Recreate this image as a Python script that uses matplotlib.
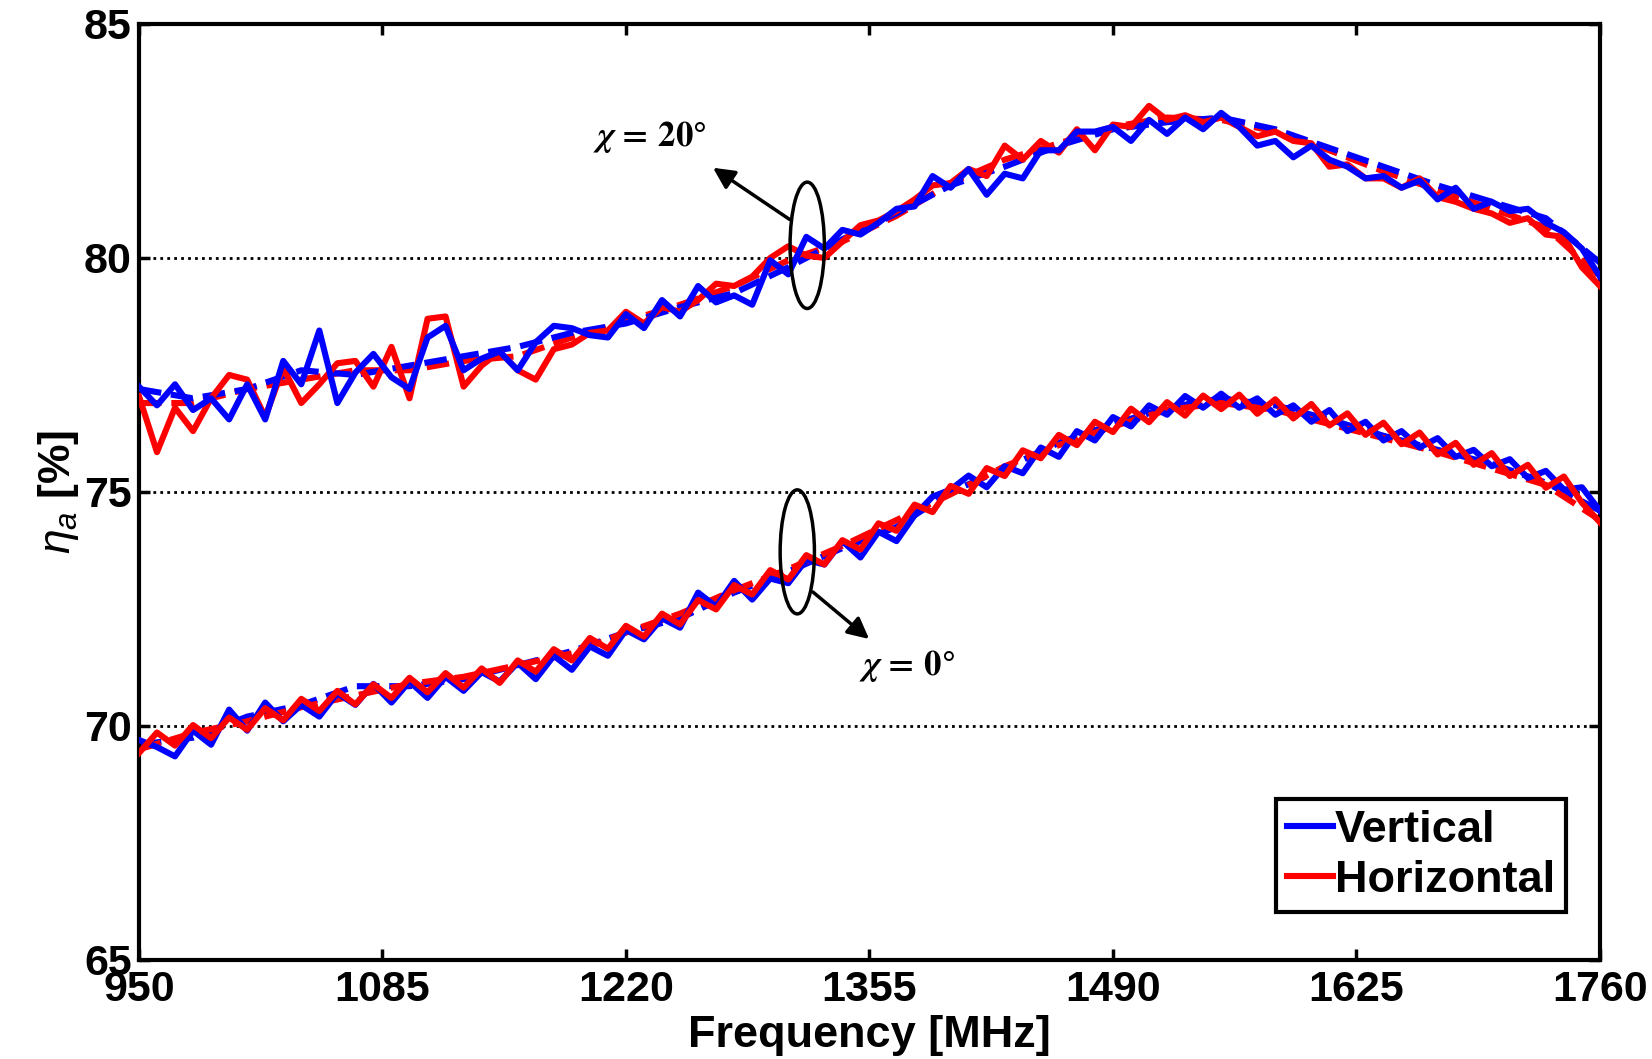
import numpy as np
import matplotlib
matplotlib.use("Agg")
import matplotlib.pyplot as plt
from matplotlib.patches import Ellipse

plt.rcParams['font.family'] = ['Liberation Sans', 'DejaVu Sans']
plt.rcParams['font.weight'] = 'bold'
plt.rcParams['mathtext.fontset'] = 'custom'
plt.rcParams['mathtext.rm'] = 'Liberation Sans:weight=normal'
plt.rcParams['mathtext.it'] = 'Liberation Sans:style=italic:weight=normal'

# frequency grid of the measured curves [MHz]
freq = np.arange(950, 1761, 10)
# coarser grid of the dashed (simulated) curves
freq_d = np.arange(950, 1761, 30)

# chi = 0 deg, measured
low_h = [69.42, 69.86, 69.58, 70.02, 69.74, 70.18, 69.92, 70.38, 70.12, 70.58,
         70.32, 70.75, 70.46, 70.89, 70.60, 71.03, 70.72, 71.13, 70.82, 71.23,
         70.92, 71.40, 71.16, 71.64, 71.40, 71.88, 71.65, 72.14, 71.91, 72.40,
         72.17, 72.69, 72.49, 73.01, 72.81, 73.33, 73.13, 73.65, 73.45, 73.97,
         73.77, 74.33, 74.17, 74.73, 74.57, 75.13, 74.96, 75.51, 75.34, 75.89,
         75.72, 76.22, 76.00, 76.50, 76.28, 76.78, 76.49, 76.92, 76.63, 77.06,
         76.77, 77.08, 76.67, 76.98, 76.57, 76.88, 76.42, 76.68, 76.22, 76.48,
         76.02, 76.27, 75.80, 76.05, 75.58, 75.83, 75.34, 75.58, 75.09, 75.33,
         74.77, 74.35]
low_v = [69.70, 69.55, 69.35, 69.90, 69.60, 70.35, 69.90, 70.50, 70.10, 70.45,
         70.20, 70.70, 70.45, 70.90, 70.50, 70.95, 70.60, 71.05, 70.75, 71.15,
         70.95, 71.35, 71.00, 71.50, 71.20, 71.70, 71.50, 72.05, 71.85, 72.30,
         72.10, 72.85, 72.55, 73.10, 72.70, 73.15, 73.05, 73.55, 73.45, 73.95,
         73.60, 74.15, 73.95, 74.50, 74.90, 75.05, 75.35, 75.10, 75.55, 75.40,
         75.95, 75.75, 76.30, 76.10, 76.60, 76.40, 76.85, 76.65, 77.05, 76.80,
         77.10, 76.80, 77.00, 76.65, 76.85, 76.50, 76.75, 76.30, 76.50, 76.10,
         76.30, 75.95, 76.15, 75.75, 75.90, 75.55, 75.70, 75.30, 75.45, 75.05,
         75.10, 74.60]

# chi = 20 deg, measured
up_v = [77.25, 76.85, 77.30, 76.75, 77.00, 76.55, 77.30, 76.55, 77.80, 77.30,
        78.45, 76.90, 77.55, 77.95, 77.45, 77.20, 78.30, 78.55, 77.60, 77.85,
        78.00, 77.60, 78.20, 78.55, 78.50, 78.35, 78.30, 78.80, 78.50, 79.10,
        78.75, 79.40, 79.05, 79.20, 79.00, 79.95, 79.65, 80.45, 80.20, 80.60,
        80.50, 80.75, 81.05, 81.10, 81.75, 81.50, 81.90, 81.35, 81.80, 81.70,
        82.30, 82.30, 82.70, 82.70, 82.80, 82.50, 82.95, 82.65, 83.00, 82.75,
        83.10, 82.80, 82.40, 82.50, 82.15, 82.40, 82.10, 81.95, 81.70, 81.75,
        81.50, 81.65, 81.25, 81.50, 81.05, 81.20, 81.00, 81.05, 80.75, 80.55,
        80.20, 79.60]
up_h = [77.05, 75.85, 76.80, 76.30, 77.00, 77.50, 77.40, 76.60, 77.65, 76.90,
        77.30, 77.75, 77.80, 77.25, 78.10, 77.00, 78.70, 78.75, 77.25, 77.70,
        78.00, 77.60, 77.40, 78.05, 78.15, 78.40, 78.45, 78.85, 78.60, 78.95,
        78.85, 79.10, 79.45, 79.40, 79.60, 80.00, 80.25, 80.05, 80.00, 80.35,
        80.70, 80.80, 81.00, 81.25, 81.55, 81.60, 81.90, 81.75, 82.40, 82.10,
        82.50, 82.25, 82.75, 82.30, 82.85, 82.80, 83.25, 82.95, 83.05, 82.90,
        83.00, 82.80, 82.60, 82.70, 82.50, 82.45, 81.95, 82.00, 81.70, 81.70,
        81.50, 81.70, 81.30, 81.20, 81.05, 80.95, 80.75, 80.85, 80.50, 80.45,
        79.80, 79.40]

# dashed curves
up_v_d = [77.2, 77.0, 77.2, 77.6, 77.5, 77.7, 77.9, 78.1, 78.4, 78.6,
          78.95, 79.25, 79.8, 80.4, 80.95, 81.55, 81.95, 82.4, 82.75, 82.9,
          83.0, 82.75, 82.35, 81.95, 81.55, 81.2, 80.85, 79.9]
up_h_d = [76.9, 76.9, 77.2, 77.4, 77.6, 77.6, 77.8, 77.9, 78.3, 78.65,
          79.0, 79.4, 79.95, 80.35, 80.9, 81.6, 82.1, 82.45, 82.8, 83.0,
          82.95, 82.7, 82.3, 81.85, 81.45, 81.05, 80.65, 79.6]
low_v_d = [69.6, 69.75, 70.2, 70.45, 70.85, 70.85, 71.0, 71.3, 71.6, 72.0,
           72.3, 72.85, 73.3, 73.8, 74.25, 75.0, 75.5, 76.05, 76.45, 76.8,
           77.0, 76.85, 76.55, 76.2, 75.9, 75.6, 75.2, 74.6]
low_h_d = [69.5, 69.85, 70.1, 70.4, 70.65, 70.9, 71.05, 71.3, 71.55, 72.0,
           72.4, 72.9, 73.35, 73.85, 74.4, 74.95, 75.55, 76.0, 76.4, 76.75,
           76.9, 76.75, 76.45, 76.15, 75.85, 75.5, 75.15, 74.4]

xticks = [950, 1085, 1220, 1355, 1490, 1625, 1760]
yticks = [65, 70, 75, 80, 85]

blue = '#0000FF'
red = '#FF0000'
lw = 4.4

fig = plt.figure(figsize=(16.52, 10.59), dpi=100)
ax = fig.add_axes([0.0841, 0.0935, 0.8844, 0.8839])

# grid lines first
for y in [70, 75, 80]:
    ax.axhline(y, color='k', lw=2, ls=(0, (1, 1.5)), zorder=1)

# lower group: red on top
ax.plot(freq_d, low_v_d, color=blue, lw=lw, ls='--', zorder=2)
ax.plot(freq_d, low_h_d, color=red, lw=lw, ls='--', zorder=2)
ax.plot(freq, low_v, color=blue, lw=lw, zorder=3, solid_joinstyle='round')
ax.plot(freq, low_h, color=red, lw=lw, zorder=4, solid_joinstyle='round')

# upper group: blue on top
ax.plot(freq_d, up_h_d, color=red, lw=lw, ls='--', zorder=2)
ax.plot(freq_d, up_v_d, color=blue, lw=lw, ls='--', zorder=2)
ax.plot(freq, up_h, color=red, lw=lw, zorder=3, solid_joinstyle='round',
        label='Horizontal')
ax.plot(freq, up_v, color=blue, lw=lw, zorder=4, solid_joinstyle='round',
        label='Vertical')

ax.set_xlim(950, 1760)
ax.set_ylim(65, 85)
ax.set_xticks(xticks)
ax.set_yticks(yticks)
ax.tick_params(direction='in', length=8, width=2.5, top=True, right=True,
               labelsize=31, pad=5)
ax.tick_params(axis='x', pad=7)
for s in ax.spines.values():
    s.set_linewidth(3)

ax.set_xlabel('Frequency [MHz]', fontsize=32.5, fontweight='bold', labelpad=4)
ax.set_ylabel(r'$\eta_a$ [%]', fontsize=32, fontweight='bold', labelpad=2)

# ellipses and arrows
ax.add_patch(Ellipse((1320.5, 80.27), 19, 2.7, fill=False, ec='k', lw=2.5, zorder=6))
ax.add_patch(Ellipse((1315, 73.72), 19, 2.65, fill=False, ec='k', lw=2.5, zorder=6))
ax.annotate('', xy=(1267, 81.96), xytext=(1312, 80.79),
            arrowprops=dict(arrowstyle='-|>', lw=2.5, color='k', mutation_scale=32))
ax.annotate('', xy=(1356, 71.82), xytext=(1322.5, 72.9),
            arrowprops=dict(arrowstyle='-|>', lw=2.5, color='k', mutation_scale=32))
ax.text(1233, 82.58, r'$\chi\,=\,20\degree$', fontsize=25, ha='center', va='center',
        math_fontfamily='stix', fontweight='normal')
ax.text(1376, 71.28, r'$\chi\,=\,0\degree$', fontsize=25, ha='center', va='center',
        math_fontfamily='stix', fontweight='normal')

handles, labels = ax.get_legend_handles_labels()
leg = ax.legend(handles[::-1], labels[::-1], loc='lower right',
                bbox_to_anchor=(0.977, 0.051), borderaxespad=0,
                fancybox=False, edgecolor='k', framealpha=1,
                prop={'size': 32.5, 'weight': 'bold'},
                handlelength=1.0, handletextpad=0.05, borderpad=0.25,
                labelspacing=0.2)
leg.get_frame().set_linewidth(3)

fig.savefig('out.png', dpi=100)
